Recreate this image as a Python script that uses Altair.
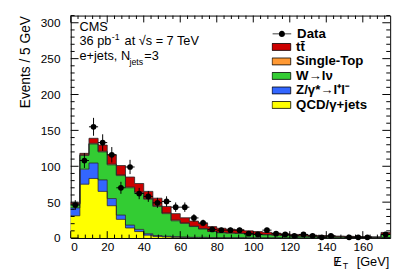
import altair as alt
import numpy as np
import pandas as pd

FONT = "Liberation Sans"

# ---------------- data (events / 5 GeV) ----------------
bin_lo = list(range(0, 175, 5))
qcd = [31, 75, 83, 65, 45, 26, 14, 9, 4, 2, 1.5, 1, 0.8, 0.5, 0.5, 0.3, 0.3, 0.2, 0.2, 0.1,
       0.1, 0.1, 0.1, 0, 0, 0, 0, 0, 0, 0, 0, 0, 0, 0, 0.2]
zjets = [11, 21, 21.5, 16, 10, 6, 4, 3, 2, 1.5, 1, 1, 0.7, 0.5, 0.5, 0.3, 0.2, 0.2, 0.2, 0.2,
         0.2, 0.1, 0.1, 0.1, 0.1, 0.1, 0.1, 0.1, 0.1, 0, 0, 0, 0, 0, 0.3]
wjets = [5, 19, 26.5, 39, 47, 55, 52, 51, 48, 40.5, 31.5, 22, 19, 15, 11.7, 8.5, 6.8, 6.4, 6.0, 5.2,
         4.7, 4.3, 3.8, 3.4, 2.9, 2.6, 2.3, 1.9, 1.7, 1.6, 1.4, 1.2, 1.1, 1.0, 4.5]
stop = [0.5, 1, 1, 1, 1, 1, 1, 1, 1, 1, 1, 1, 0.5, 0.5, 0.3, 0.3, 0.3, 0.2, 0.2, 0.2,
        0.2, 0.2, 0.2, 0.1, 0.1, 0.1, 0.1, 0.1, 0.1, 0.1, 0.1, 0.1, 0.1, 0.1, 0.3]
ttbar = [1.5, 2, 7, 8.5, 13, 13, 14, 12, 10, 10.5, 9, 9, 7.2, 7.1, 7.5, 6.5, 6, 5.3, 4.8, 4.3,
         3.8, 3.3, 2.8, 2.4, 1.9, 1.7, 1.5, 1.4, 1.1, 1.0, 0.9, 0.7, 0.6, 0.5, 2.5]
data_counts = [46, 108, 155, 133, 116, 70, 99, 62, 58, 49, 51, 43, 43, 28, 21, 12, 11, 11, 11, 6,
               5, 11, 6, 5, 3, 5, 3, 1, 3, 0, 1, 1, 1, 0, 5]

proc_names = ["QCD/\u03b3+jets", "Z/\u03b3*\u2192l\u207al\u207b", "W\u2192l\u03bd", "Single-Top", "tt\u0304"]
proc_colors = ["#ffff00", "#3366ff", "#33cc33", "#ff9933", "#cc0000"]
proc_vals = [qcd, zjets, wjets, stop, ttbar]

y_major = [0, 50, 100, 150, 200, 250, 300]
y_minor = [v for v in range(0, 311, 10) if v % 50 != 0]
x_major = [0, 20, 40, 60, 80, 100, 120, 140, 160]
x_minor = [v for v in range(0, 176, 4) if v % 20 != 0]

X_MAX = 175
Y_MAX = 310
W, H = 326, 227

# ---------------- tables ----------------
rows = []
cum = np.zeros(len(bin_lo))
for name, vals in zip(proc_names, proc_vals):
    vals = np.array(vals, dtype=float)
    lo = cum.copy()
    hi = cum + vals
    for i, x in enumerate(bin_lo):
        rows.append({"proc": name, "x": x, "lo": lo[i], "hi": hi[i]})
    rows.append({"proc": name, "x": X_MAX, "lo": lo[-1], "hi": hi[-1]})
    cum = hi
stack = pd.DataFrame(rows)

dd = pd.DataFrame({"lo": bin_lo, "n": data_counts})
dd["hi"] = dd["lo"] + 5
dd["c"] = dd["lo"] + 2.5
dd["lab"] = "Data"
dd = dd[dd["n"] > 0]

xs = alt.Scale(domain=[0, X_MAX], nice=False, zero=False)
ys = alt.Scale(domain=[0, Y_MAX], nice=False, zero=False)
xaxis = alt.Axis(values=x_major, ticks=False, domain=False, grid=False, labelFont=FONT,
                 labelFontSize=12, labelPadding=4, labelColor="black", title=None)
yaxis = alt.Axis(values=y_major, ticks=False, domain=False, grid=False, labelFont=FONT,
                 labelFontSize=12, labelPadding=11, labelColor="black",
                 title="Events / 5 GeV", titleFont=FONT, titleFontSize=14, titleFontWeight="normal",
                 titleColor="black", titleX=-41.7, titleY=0, titleAlign="right", titleAngle=270,
                 titleBaseline="alphabetic")


def X(f):
    return alt.X(f, type="quantitative", scale=xs, axis=xaxis, title=None)


def Y(f):
    return alt.Y(f, type="quantitative", scale=ys, axis=yaxis, title="Events / 5 GeV", stack=None)


box_path = "M-1,-0.37H1V0.37H-1Z"
dot_path = ("M-1,-0.035H-0.3V0.035H-1Z M0.3,-0.035H1V0.035H0.3Z "
            "M-0.33,0A0.33,0.33,0,1,1,0.33,0A0.33,0.33,0,1,1,-0.33,0Z")

leg_common = dict(orient="none", title=None, labelFont=FONT, labelFontSize=13.5, labelFontWeight="bold",
                  labelColor="black", symbolSize=361, clipHeight=14, rowPadding=0.8,
                  labelOffset=5, padding=0, legendX=205, symbolOpacity=1)

areas = alt.Chart(stack).mark_area(interpolate="step-after", opacity=1).encode(
    x=X("x"), y=Y("hi"), y2="lo",
    color=alt.Color("proc:N",
                    scale=alt.Scale(domain=proc_names[::-1], range=proc_colors[::-1]),
                    legend=alt.Legend(symbolType=box_path, symbolStrokeColor="black",
                                      symbolStrokeWidth=0.8, legendY=25, **leg_common)),
)
outlines = alt.Chart(stack).mark_line(interpolate="step-after", color="#262626", strokeWidth=0.8).encode(
    x=X("x"), y=Y("hi"), detail="proc:N")

errv = alt.Chart(dd).transform_calculate(
    elo="datum.n - sqrt(datum.n)", ehi="datum.n + sqrt(datum.n)"
).mark_rule(color="black", strokeWidth=1).encode(x=X("c"), y=Y("elo:Q"), y2="ehi:Q")
errh = alt.Chart(dd).mark_rule(color="black", strokeWidth=1).encode(x=X("lo"), x2="hi", y=Y("n"))
pts = alt.Chart(dd).mark_circle(size=34, opacity=1).encode(
    x=X("c"), y=Y("n"),
    color=alt.Color("lab:N", scale=alt.Scale(domain=["Data"], range=["black"]),
                    legend=alt.Legend(symbolType=dot_path, legendY=11.7, **leg_common)),
)

# ticks inside the frame on all four sides
ymaj_df = pd.DataFrame({"v": y_major})
ymin_df = pd.DataFrame({"v": y_minor})
xmaj_df = pd.DataFrame({"v": x_major})
xmin_df = pd.DataFrame({"v": x_minor})
tk = dict(color="black", strokeWidth=1)
ticks = [
    alt.Chart(ymaj_df).mark_rule(**tk).encode(y=Y("v"), x=alt.value(0), x2=alt.value(8)),
    alt.Chart(ymin_df).mark_rule(**tk).encode(y=Y("v"), x=alt.value(0), x2=alt.value(4)),
    alt.Chart(ymaj_df).mark_rule(**tk).encode(y=Y("v"), x=alt.value(W), x2=alt.value(W - 8)),
    alt.Chart(ymin_df).mark_rule(**tk).encode(y=Y("v"), x=alt.value(W), x2=alt.value(W - 4)),
    alt.Chart(xmaj_df).mark_rule(**tk).encode(x=X("v"), y=alt.value(H), y2=alt.value(H - 7)),
    alt.Chart(xmin_df).mark_rule(**tk).encode(x=X("v"), y=alt.value(H), y2=alt.value(H - 3.5)),
    alt.Chart(xmaj_df).mark_rule(**tk).encode(x=X("v"), y=alt.value(0), y2=alt.value(7)),
    alt.Chart(xmin_df).mark_rule(**tk).encode(x=X("v"), y=alt.value(0), y2=alt.value(3.5)),
]

dummy = pd.DataFrame({"a": [0]})


def label(txt, x, y, size=13, weight="normal", align="left"):
    return alt.Chart(dummy).mark_text(text=txt, align=align, baseline="alphabetic", fontSize=size,
                                      font=FONT, fontWeight=weight, color="black").encode(
        x=alt.value(x), y=alt.value(y))


texts = [
    label("CMS", 9, 15.3),
    label("36 pb", 9, 30.3),
    label("-1", 42, 25, size=9),
    label("at \u221as = 7 TeV", 55, 30.3),
    label("e+jets, N", 9, 45.3),
    label("jets", 60, 50, size=9),
    label("=3", 75, 45.3),
    label("E", 268, 255.5),
    label("/", 272, 255.5, align="center"),
    label("T", 277.5, 258.5, size=9),
    label("[GeV]", 325, 255.5, align="right"),
]

chart = alt.layer(areas, outlines, errv, errh, pts, *ticks, *texts).resolve_scale(
    color="independent"
).properties(
    width=W, height=H,
    autosize=alt.AutoSizeParams(type="none"),
    padding={"left": 64, "top": 5, "right": 9, "bottom": 35},
    background="white",
).configure_view(stroke="black", strokeWidth=1)

chart.save("out.html", embed_options={"renderer": "svg", "actions": False})
